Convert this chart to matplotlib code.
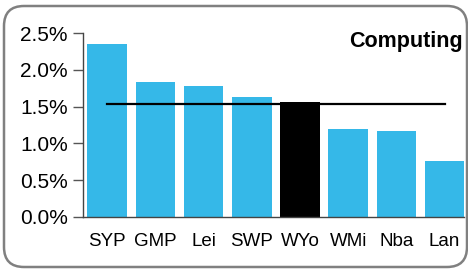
import matplotlib
matplotlib.use("Agg")
import matplotlib.pyplot as plt
from matplotlib.patches import FancyBboxPatch
from matplotlib.ticker import FuncFormatter

plt.rcParams['font.family'] = ['Liberation Sans', 'DejaVu Sans']

# data
categories = ["SYP", "GMP", "Lei", "SWP", "WYo", "WMi", "Nba", "Lan"]
values = [2.36, 1.83, 1.78, 1.63, 1.56, 1.20, 1.17, 0.76]
highlight = "WYo"
benchmark = 1.53
title = "Computing"

blue = "#35b8e8"
colors = ["black" if c == highlight else blue for c in categories]

fig = plt.figure(figsize=(4.68, 2.70), dpi=100)
ax = fig.add_axes([83.1 / 468, 53.3 / 270, (463.8 - 83.1) / 468, (216.7 - 33.3) / 270])

x = list(range(len(categories)))
ax.bar(x, values, width=0.82, color=colors, zorder=2)
ax.plot([x[0], x[-1]], [benchmark, benchmark], color="black", lw=1.6, zorder=3)

ax.set_xlim(-0.5, 7.4)
ax.set_ylim(0, 2.5)
ax.set_yticks([0, 0.5, 1.0, 1.5, 2.0, 2.5])
ax.yaxis.set_major_formatter(FuncFormatter(lambda v, p: f"{v:.1f}%"))
ax.set_xticks(x)
ax.set_xticklabels(categories)
ax.tick_params(axis="y", length=7, width=1, color="#555555", labelsize=15, pad=4)
ax.tick_params(axis="x", length=0, labelsize=13.5, pad=12)

for s in ["top", "right"]:
    ax.spines[s].set_visible(False)
for s in ["left", "bottom"]:
    ax.spines[s].set_color("#444444")
    ax.spines[s].set_linewidth(1)

fig.text(463 / 468, 1 - 41.7 / 270, title, ha="right", va="center",
         fontsize=15.5, fontweight="bold")

# rounded frame around the chart
frame = FancyBboxPatch((4, 3), 463, 261, boxstyle="round,pad=0,rounding_size=20",
                       transform=None, fill=False, edgecolor="#808080", lw=1.8)
fig.add_artist(frame)

fig.savefig("out.png", dpi=100)
